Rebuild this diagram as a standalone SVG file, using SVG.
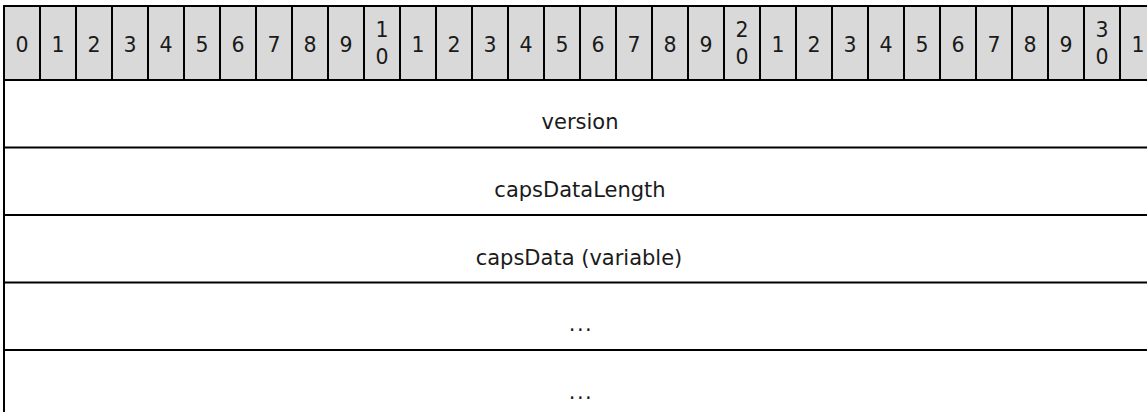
<svg xmlns="http://www.w3.org/2000/svg" width="1147" height="412" viewBox="0 0 1147 412">
<style>
.ln{stroke:#000;stroke-width:2;fill:none}
.hd{fill:#d9d9d9}
.t{font-family:"DejaVu Sans",Verdana,sans-serif;font-size:20.5px;fill:#1a1a1a;text-anchor:middle}
.f{font-size:21px}
</style>
<rect width="1147" height="412" fill="#fff"/>
<g id="header">
<rect class="hd" x="4" y="6" width="1152" height="74"/>
<g class="t">
<text x="22" y="51.5">0</text><text x="58" y="51.5">1</text><text x="94" y="51.5">2</text><text x="130" y="51.5">3</text><text x="166" y="51.5">4</text><text x="202" y="51.5">5</text><text x="238" y="51.5">6</text><text x="274" y="51.5">7</text><text x="310" y="51.5">8</text><text x="346" y="51.5">9</text>
<text x="382" y="37">1</text><text x="382" y="64">0</text>
<text x="418" y="51.5">1</text><text x="454" y="51.5">2</text><text x="490" y="51.5">3</text><text x="526" y="51.5">4</text><text x="562" y="51.5">5</text><text x="598" y="51.5">6</text><text x="634" y="51.5">7</text><text x="670" y="51.5">8</text><text x="706" y="51.5">9</text>
<text x="742" y="37">2</text><text x="742" y="64">0</text>
<text x="778" y="51.5">1</text><text x="814" y="51.5">2</text><text x="850" y="51.5">3</text><text x="886" y="51.5">4</text><text x="922" y="51.5">5</text><text x="958" y="51.5">6</text><text x="994" y="51.5">7</text><text x="1030" y="51.5">8</text><text x="1066" y="51.5">9</text>
<text x="1102" y="37">3</text><text x="1102" y="64">0</text>
<text x="1138" y="51.5">1</text>
</g>
</g>
<g id="connectors" class="ln">
<path d="M4 6H1156M4 80H1156M4 147.5H1156M4 215H1156M4 282.5H1156M4 350H1156"/>
<path d="M4 5V412M1156 5V412"/>
<path d="M40 6V80M76 6V80M112 6V80M148 6V80M184 6V80M220 6V80M256 6V80M292 6V80M328 6V80M364 6V80M400 6V80M436 6V80M472 6V80M508 6V80M544 6V80M580 6V80M616 6V80M652 6V80M688 6V80M724 6V80M760 6V80M796 6V80M832 6V80M868 6V80M904 6V80M940 6V80M976 6V80M1012 6V80M1048 6V80M1084 6V80M1120 6V80"/>
</g>
<g id="field-version"><text class="t f" x="580" y="129">version</text></g>
<g id="field-capsDataLength"><text class="t f" x="580" y="196.5">capsDataLength</text></g>
<g id="field-capsData"><text class="t f" x="579" y="264.5">capsData (variable)</text></g>
<g id="field-more1"><text class="t f" x="581" y="331" letter-spacing="1.5">...</text></g>
<g id="field-more2"><text class="t f" x="581" y="398.5" letter-spacing="1.5">...</text></g>
</svg>
